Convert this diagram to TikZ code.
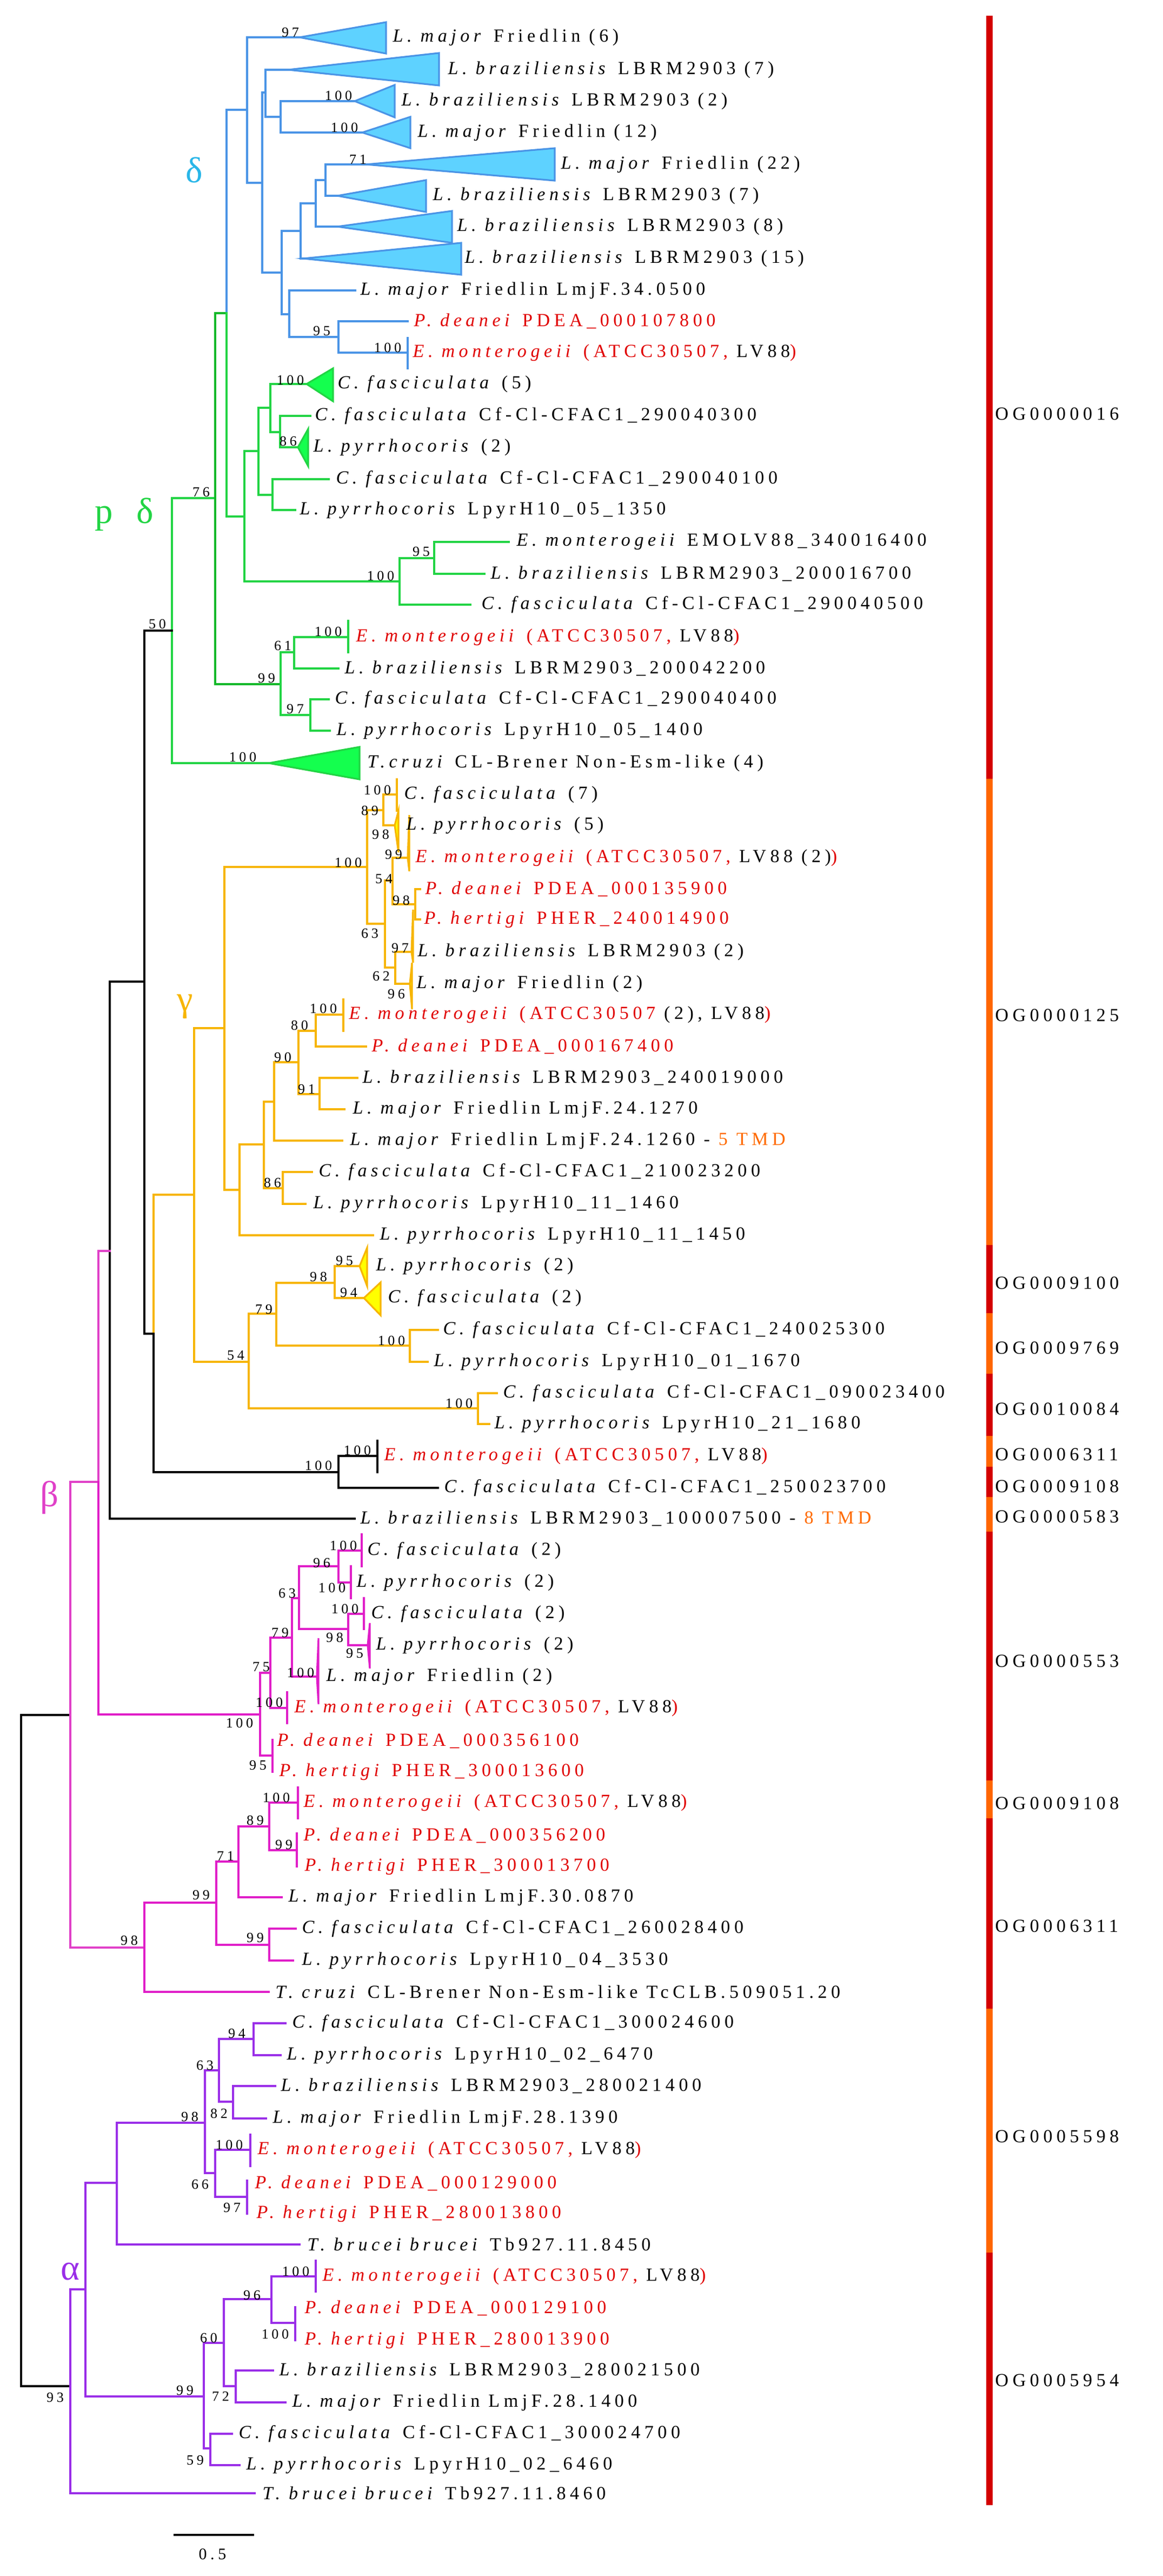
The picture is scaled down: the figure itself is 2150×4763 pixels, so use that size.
\documentclass[tikz,border=0pt]{standalone}
\usepackage{fontspec}
\setmainfont{Liberation Serif}[LetterSpace=22]
\newfontfamily\grk{Liberation Serif}
\definecolor{cdelta}{HTML}{4A94E6}
\definecolor{cdfill}{HTML}{5ED2FF}
\definecolor{cdlab}{HTML}{29B6E8}
\definecolor{cgreen}{HTML}{22D444}
\definecolor{cgreend}{HTML}{12B828}
\definecolor{cgfill}{HTML}{14FF4E}
\definecolor{cyel}{HTML}{F7B500}
\definecolor{cyfill}{HTML}{FFFF00}
\definecolor{cmag}{HTML}{E01EC8}
\definecolor{cbeta}{HTML}{E040C8}
\definecolor{cpur}{HTML}{9A2EE8}
\definecolor{cred}{HTML}{E00000}
\definecolor{corg}{HTML}{FF6A00}
\definecolor{cbarred}{HTML}{D40000}
\definecolor{cbarorg}{HTML}{FF6600}
\newcommand{\xLm}{\textit{L. major}}
\newcommand{\xLb}{\textit{L. braziliensis}}
\newcommand{\xCf}{\textit{C. fasciculata}}
\newcommand{\xLp}{\textit{L. pyrrhocoris}}
\newcommand{\xEm}{\textit{E. monterogeii}}
\newcommand{\xPd}{\textit{P. deanei}}
\newcommand{\xPh}{\textit{P. hertigi}}
\newcommand{\xTc}{\textit{T. cruzi}}
\newcommand{\xTb}{\textit{T. brucei brucei}}
\newcommand{\xEmA}{{\color{cred}\xEm\ (ATCC30507,} LV88{\color{cred})}}
\newcommand{\ed}[3]{\draw[br,#1] (#2) |- (#3);}
\newcommand{\tria}[6]{\filldraw[tri,draw=#5,fill=#6] (#1) -- (#2,#3) -- (#2,#4) -- cycle;}
\newcommand{\vbar}[4]{\draw[br,#1] (#2,#3) -- (#2,#4);}
\newcommand{\bsl}[3]{\node[bs] (b-#1-#2) at (#1,#2) {#3};}
\newcommand{\lab}[4]{\node[lf] (#1) at (#2,#3) {#4};}
\newcommand{\ogl}[2]{\node[og] (og-#2) at (1840,#2) {#1};}
\tikzset{
 br/.style={line width=0.9pt, line cap=rect},
 tri/.style={line width=0.9pt, line join=miter},
 lf/.style={anchor=west, inner sep=0pt, font=\fontsize{9.7}{11}\selectfont},
 og/.style={anchor=west, inner sep=0pt, font=\fontsize{9.7}{11}\selectfont},
 bs/.style={inner sep=0pt, font=\fontsize{7.4}{8}\selectfont},
 grl/.style={inner sep=0pt, font=\grk\fontsize{19}{20}\selectfont},
}
\begin{document}
\begin{tikzpicture}[x=0.01cm,y=-0.01cm]
\useasboundingbox (0,0) rectangle (2150,4763);
% ================= coordinates =================
% delta
\coordinate (dA) at (457,203);
\coordinate (dB) at (485,338);
\coordinate (dC) at (491,171);
\coordinate (dE) at (519,216);
\coordinate (dD) at (521,504);
\coordinate (dF) at (556,427);
\coordinate (dH) at (584,376);
\coordinate (dI) at (602,333);
\coordinate (dG) at (535,581);
\coordinate (dJ) at (626,623);
\coordinate (dt1) at (554,69);
\coordinate (dt2) at (533,129);
\coordinate (dt3) at (656,187);
\coordinate (dt4) at (670,245);
\coordinate (dt5) at (677,304);
\coordinate (dt6) at (624,362);
\coordinate (dt7) at (624,419);
\coordinate (dt8) at (561,478);
\coordinate (dt9) at (657,537);
\coordinate (dt10) at (754,594);
\coordinate (dt11) at (754,652);
% green
\coordinate (gW) at (318,1166);
\coordinate (gS) at (398,921);
\coordinate (gP) at (419,579);
\coordinate (gO) at (452,955);
\coordinate (gL) at (478,834);
\coordinate (gK) at (500,754);
\coordinate (gM) at (518,799);
\coordinate (gN) at (504,915);
\coordinate (gQ) at (739,1075);
\coordinate (gR) at (803,1032);
\coordinate (gT) at (519,1265);
\coordinate (gU) at (544,1206);
\coordinate (gV) at (574,1322);
\coordinate (gt1) at (567,710);
\coordinate (gt2) at (574,769);
\coordinate (gt3) at (551,827);
\coordinate (gt4) at (608,886);
\coordinate (gt5) at (546,943);
\coordinate (gt6) at (870,1118);
\coordinate (gt7) at (941,1002);
\coordinate (gt8) at (896,1061);
\coordinate (gt9) at (644,1178);
\coordinate (gt10) at (626,1236);
\coordinate (gt11) at (608,1293);
\coordinate (gt12) at (610,1351);
\coordinate (gt13) at (497,1411);
% black
\coordinate (root) at (39,3171);
\coordinate (kX0) at (203,2313);
\coordinate (kX1) at (267,1815);
\coordinate (kX2) at (284,2466);
\coordinate (kAQ) at (626,2722);
\coordinate (kt1) at (698,2692);
\coordinate (kt2) at (810,2751);
\coordinate (kt3) at (656,2808);
% yellow
\coordinate (yAK) at (359,2209);
\coordinate (yAC) at (415,1901);
\coordinate (yX) at (679,1603);
\coordinate (yX89) at (709,1498);
\coordinate (yY) at (712,1708);
\coordinate (yZ) at (726,1628);
\coordinate (yAB) at (768,1672);
\coordinate (yAA) at (731,1789);
\coordinate (yAD) at (443,2200);
\coordinate (yAE) at (488,2116);
\coordinate (yAF) at (507,2037);
\coordinate (yAH) at (552,1964);
\coordinate (yAI) at (584,1906);
\coordinate (yAJ) at (591,2023);
\coordinate (yAG) at (523,2197);
\coordinate (yAL) at (460,2518);
\coordinate (yAM) at (511,2429);
\coordinate (yAO) at (619,2372);
\coordinate (yAP) at (758,2488);
\coordinate (yAN) at (884,2604);
\coordinate (yt1) at (734,1469);
\coordinate (yt2) at (730,1526);
\coordinate (yt3) at (754,1586);
\coordinate (yt4) at (777,1644);
\coordinate (yt5) at (777,1700);
\coordinate (yt6) at (761,1760);
\coordinate (yt7) at (758,1819);
\coordinate (yt8) at (635,1876);
\coordinate (yt9) at (677,1935);
\coordinate (yt10) at (661,1993);
\coordinate (yt11) at (637,2051);
\coordinate (yt12) at (633,2109);
\coordinate (yt13) at (577,2167);
\coordinate (yt14) at (565,2226);
\coordinate (yt15) at (690,2284);
\coordinate (yt16) at (665,2341);
\coordinate (yt17) at (673,2400);
\coordinate (yt18) at (810,2459);
\coordinate (yt19) at (791,2518);
\coordinate (yt20) at (919,2576);
\coordinate (yt21) at (905,2633);
% magenta
\coordinate (mBn) at (130,3171);
\coordinate (mBm) at (182,2740);
\coordinate (mBB) at (481,3170);
\coordinate (mBA) at (500,3093);
\coordinate (mB79) at (540,3028);
\coordinate (mB63) at (553,2955);
\coordinate (mB96) at (626,2896);
\coordinate (mB98) at (644,3012);
\coordinate (mBC) at (267,3601);
\coordinate (mB99) at (400,3518);
\coordinate (mB71) at (441,3442);
\coordinate (mB89) at (498,3377);
\coordinate (mB99b) at (498,3596);
\coordinate (mt1) at (669,2867);
\coordinate (mt2) at (649,2926);
\coordinate (mt3) at (673,2984);
\coordinate (mt4) at (680,3042);
\coordinate (mt5) at (586,3100);
\coordinate (mt6) at (531,3158);
\coordinate (mt7) at (504,3246);
\coordinate (mt8) at (551,3333);
\coordinate (mt9) at (549,3421);
\coordinate (mt10) at (521,3508);
\coordinate (mt11) at (547,3566);
\coordinate (mt12) at (542,3625);
\coordinate (mt13) at (497,3683);
% purple
\coordinate (aAl) at (130,4412);
\coordinate (aA1) at (158,4233);
\coordinate (aA2) at (216,4036);
\coordinate (aA4) at (379,3925);
\coordinate (aA5) at (405,3828);
\coordinate (aA7) at (469,3770);
\coordinate (aA8) at (431,3886);
\coordinate (aA6) at (398,4018);
\coordinate (aA3) at (377,4431);
\coordinate (aA9) at (414,4332);
\coordinate (aA11) at (502,4251);
\coordinate (aA12) at (436,4412);
\coordinate (aA10) at (389,4527);
\coordinate (at1) at (528,3741);
\coordinate (at2) at (519,3800);
\coordinate (at3) at (509,3857);
\coordinate (at4) at (492,3917);
\coordinate (at5) at (463,3975);
\coordinate (at6) at (457,4062);
\coordinate (at7) at (554,4150);
\coordinate (at8) at (584,4209);
\coordinate (at9) at (546,4295);
\coordinate (at10) at (505,4383);
\coordinate (at11) at (528,4442);
\coordinate (at12) at (429,4500);
\coordinate (at13) at (443,4558);
\coordinate (at14) at (471,4610);
% ================= edges =================
% delta
\ed{cdelta}{gP}{dA}
\ed{cdelta}{dA}{dt1} \ed{cdelta}{dA}{dB}
\ed{cdelta}{dB}{dC} \ed{cdelta}{dB}{dD}
\ed{cdelta}{dC}{dt2} \ed{cdelta}{dC}{dE}
\ed{cdelta}{dE}{dt3} \ed{cdelta}{dE}{dt4}
\ed{cdelta}{dD}{dF} \ed{cdelta}{dD}{dG}
\ed{cdelta}{dF}{dH} \ed{cdelta}{dF}{dt8}
\ed{cdelta}{dH}{dI} \ed{cdelta}{dH}{dt7}
\ed{cdelta}{dI}{dt5} \ed{cdelta}{dI}{dt6}
\ed{cdelta}{dG}{dt9} \ed{cdelta}{dG}{dJ}
\ed{cdelta}{dJ}{dt10} \ed{cdelta}{dJ}{dt11}
\vbar{cdelta}{754}{625}{681}
\tria{dt1}{714}{41}{99}{cdelta}{cdfill}
\tria{dt2}{812}{98}{158}{cdelta}{cdfill}
\tria{dt3}{730}{157}{217}{cdelta}{cdfill}
\tria{dt4}{759}{216}{274}{cdelta}{cdfill}
\tria{dt5}{1026}{274}{334}{cdelta}{cdfill}
\tria{dt6}{788}{333}{392}{cdelta}{cdfill}
\tria{dt7}{836}{390}{449}{cdelta}{cdfill}
\tria{dt8}{853}{449}{508}{cdelta}{cdfill}
% green
\ed{cgreen}{gW}{gS}
\ed{cgreend}{gS}{gP} \ed{cgreend}{gS}{gT}
\ed{cgreen}{gP}{gO}
\ed{cgreen}{gO}{gL} \ed{cgreen}{gO}{gQ}
\ed{cgreen}{gL}{gK} \ed{cgreen}{gL}{gN}
\ed{cgreen}{gK}{gt1} \ed{cgreen}{gK}{gM}
\ed{cgreen}{gM}{gt2} \ed{cgreen}{gM}{gt3}
\ed{cgreen}{gN}{gt4} \ed{cgreen}{gN}{gt5}
\ed{cgreen}{gQ}{gR} \ed{cgreen}{gQ}{gt6}
\ed{cgreen}{gR}{gt7} \ed{cgreen}{gR}{gt8}
\ed{cgreen}{gT}{gU} \ed{cgreen}{gT}{gV}
\ed{cgreen}{gU}{gt9} \ed{cgreen}{gU}{gt10}
\ed{cgreen}{gV}{gt11} \ed{cgreen}{gV}{gt12}
\ed{cgreen}{gW}{gt13}
\vbar{cgreen}{644}{1148}{1206}
\tria{gt1}{616}{681}{742}{cgreen}{cgfill}
\tria{gt3}{570}{793}{862}{cgreen}{cgfill}
\tria{gt13}{665}{1381}{1441}{cgreen}{cgfill}
% black
\ed{black}{root}{mBn} \ed{black}{root}{aAl}
\ed{black}{kX0}{kX1} \ed{black}{kX0}{kt3}
\ed{black}{kX1}{gW} \ed{black}{kX1}{kX2}
\ed{cyel}{kX2}{yAK} \ed{black}{kX2}{kAQ}
\ed{black}{kAQ}{kt1} \ed{black}{kAQ}{kt2}
\vbar{black}{698}{2664}{2722}
% yellow
\ed{cyel}{yAK}{yAC} \ed{cyel}{yAK}{yAL}
\ed{cyel}{yAC}{yX} \ed{cyel}{yAC}{yAD}
\ed{cyel}{yX}{yX89} \ed{cyel}{yX}{yY}
\ed{cyel}{yX89}{yt1} \ed{cyel}{yX89}{yt2}
\ed{cyel}{yY}{yZ} \ed{cyel}{yY}{yAA}
\ed{cyel}{yZ}{yt3} \ed{cyel}{yZ}{yAB}
\ed{cyel}{yAB}{yt4} \ed{cyel}{yAB}{yt5}
\ed{cyel}{yAA}{yt6} \ed{cyel}{yAA}{yt7}
\ed{cyel}{yAD}{yAE} \ed{cyel}{yAD}{yt15}
\ed{cyel}{yAE}{yAF} \ed{cyel}{yAE}{yAG}
\ed{cyel}{yAF}{yAH} \ed{cyel}{yAF}{yt12}
\ed{cyel}{yAH}{yAI} \ed{cyel}{yAH}{yAJ}
\ed{cyel}{yAI}{yt8} \ed{cyel}{yAI}{yt9}
\ed{cyel}{yAJ}{yt10} \ed{cyel}{yAJ}{yt11}
\ed{cyel}{yAG}{yt13} \ed{cyel}{yAG}{yt14}
\ed{cyel}{yAL}{yAM} \ed{cyel}{yAL}{yAN}
\ed{cyel}{yAM}{yAO} \ed{cyel}{yAM}{yAP}
\ed{cyel}{yAO}{yt16} \ed{cyel}{yAO}{yt17}
\ed{cyel}{yAP}{yt18} \ed{cyel}{yAP}{yt19}
\ed{cyel}{yAN}{yt20} \ed{cyel}{yAN}{yt21}
\vbar{cyel}{734}{1441}{1499}
\vbar{cyel}{635}{1848}{1906}
\tria{yt2}{737}{1499}{1576}{cyel}{cyfill}
\tria{yt3}{757}{1507}{1611}{cyel}{cyfill}
\tria{yt6}{764}{1682}{1780}{cyel}{cyfill}
\tria{yt7}{762}{1780}{1866}{cyel}{cyfill}
\tria{yt16}{679}{2307}{2378}{cyel}{cyfill}
\tria{yt17}{704}{2371}{2432}{cyel}{cyfill}
% magenta
\ed{cbeta}{mBn}{mBm} \ed{cbeta}{mBn}{mBC}
\ed{cbeta}{mBm}{kX0} \ed{cmag}{mBm}{mBB}
\ed{cmag}{mBB}{mBA} \ed{cmag}{mBB}{mt7}
\ed{cmag}{mBA}{mB79} \ed{cmag}{mBA}{mt6}
\ed{cmag}{mB79}{mB63} \ed{cmag}{mB79}{mt5}
\ed{cmag}{mB63}{mB96} \ed{cmag}{mB63}{mB98}
\ed{cmag}{mB96}{mt1} \ed{cmag}{mB96}{mt2}
\ed{cmag}{mB98}{mt3} \ed{cmag}{mB98}{mt4}
\ed{cmag}{mBC}{mB99} \ed{cmag}{mBC}{mt13}
\ed{cmag}{mB99}{mB71} \ed{cmag}{mB99}{mB99b}
\ed{cmag}{mB71}{mB89} \ed{cmag}{mB71}{mt10}
\ed{cmag}{mB89}{mt8} \ed{cmag}{mB89}{mt9}
\ed{cmag}{mB99b}{mt11} \ed{cmag}{mB99b}{mt12}
\vbar{cmag}{669}{2837}{2896}
\vbar{cmag}{649}{2896}{2955}
\vbar{cmag}{673}{2955}{3012}
\vbar{cmag}{531}{3129}{3186}
\vbar{cmag}{504}{3217}{3276}
\vbar{cmag}{551}{3305}{3362}
\vbar{cmag}{549}{3390}{3451}
\tria{mt4}{684}{3001}{3085}{cmag}{cmag}
\tria{mt5}{589}{3029}{3151}{cmag}{cmag}
% purple
\ed{cpur}{aAl}{aA1} \ed{cpur}{aAl}{at14}
\ed{cpur}{aA1}{aA2} \ed{cpur}{aA1}{aA3}
\ed{cpur}{aA2}{aA4} \ed{cpur}{aA2}{at7}
\ed{cpur}{aA4}{aA5} \ed{cpur}{aA4}{aA6}
\ed{cpur}{aA5}{aA7} \ed{cpur}{aA5}{aA8}
\ed{cpur}{aA7}{at1} \ed{cpur}{aA7}{at2}
\ed{cpur}{aA8}{at3} \ed{cpur}{aA8}{at4}
\ed{cpur}{aA6}{at5} \ed{cpur}{aA6}{at6}
\ed{cpur}{aA3}{aA9} \ed{cpur}{aA3}{aA10}
\ed{cpur}{aA9}{aA11} \ed{cpur}{aA9}{aA12}
\ed{cpur}{aA11}{at8} \ed{cpur}{aA11}{at9}
\ed{cpur}{aA12}{at10} \ed{cpur}{aA12}{at11}
\ed{cpur}{aA10}{at12} \ed{cpur}{aA10}{at13}
\vbar{cpur}{463}{3947}{4005}
\vbar{cpur}{457}{4032}{4093}
\vbar{cpur}{584}{4180}{4237}
\vbar{cpur}{546}{4266}{4327}
% ================= leaf labels =================
\lab{L-dt1}{726}{69}{\xLm\ Friedlin (6)}
\lab{L-dt2}{828}{129}{\xLb\ LBRM2903 (7)}
\lab{L-dt3}{742}{187}{\xLb\ LBRM2903 (2)}
\lab{L-dt4}{772}{245}{\xLm\ Friedlin (12)}
\lab{L-dt5}{1037}{304}{\xLm\ Friedlin (22)}
\lab{L-dt6}{800}{362}{\xLb\ LBRM2903 (7)}
\lab{L-dt7}{845}{419}{\xLb\ LBRM2903 (8)}
\lab{L-dt8}{859}{478}{\xLb\ LBRM2903 (15)}
\lab{L-dt9}{666}{537}{\xLm\ Friedlin LmjF.34.0500}
\lab{L-dt10}{765}{594}{\color{cred}\xPd\ PDEA\_000107800}
\lab{L-dt11}{763}{652}{\xEmA}
\lab{L-gt1}{624}{710}{\xCf\ (5)}
\lab{L-gt2}{582}{769}{\xCf\ Cf-Cl-CFAC1\_290040300}
\lab{L-gt3}{579}{827}{\xLp\ (2)}
\lab{L-gt4}{621}{886}{\xCf\ Cf-Cl-CFAC1\_290040100}
\lab{L-gt5}{554}{943}{\xLp\ LpyrH10\_05\_1350}
\lab{L-gt7}{955}{1002}{\xEm\ EMOLV88\_340016400}
\lab{L-gt8}{907}{1061}{\xLb\ LBRM2903\_200016700}
\lab{L-gt6}{890}{1118}{\xCf\ Cf-Cl-CFAC1\_290040500}
\lab{L-gt9}{658}{1178}{\xEmA}
\lab{L-gt10}{637}{1236}{\xLb\ LBRM2903\_200042200}
\lab{L-gt11}{619}{1293}{\xCf\ Cf-Cl-CFAC1\_290040400}
\lab{L-gt12}{622}{1351}{\xLp\ LpyrH10\_05\_1400}
\lab{L-gt13}{679}{1411}{\textit{T.cruzi} CL-Brener Non-Esm-like (4)}
\lab{L-yt1}{747}{1469}{\xCf\ (7)}
\lab{L-yt2}{751}{1526}{\xLp\ (5)}
\lab{L-yt3}{768}{1586}{{\color{cred}\xEm\ (ATCC30507,} LV88 (2){\color{cred})}}
\lab{L-yt4}{786}{1644}{\color{cred}\xPd\ PDEA\_000135900}
\lab{L-yt5}{784}{1700}{\color{cred}\xPh\ PHER\_240014900}
\lab{L-yt6}{772}{1760}{\xLb\ LBRM2903 (2)}
\lab{L-yt7}{770}{1819}{\xLm\ Friedlin (2)}
\lab{L-yt8}{645}{1876}{{\color{cred}\xEm\ (ATCC30507} (2), LV88{\color{cred})}}
\lab{L-yt9}{687}{1935}{\color{cred}\xPd\ PDEA\_000167400}
\lab{L-yt10}{670}{1993}{\xLb\ LBRM2903\_240019000}
\lab{L-yt11}{652}{2051}{\xLm\ Friedlin LmjF.24.1270}
\lab{L-yt12}{647}{2109}{\xLm\ Friedlin LmjF.24.1260 - {\color{corg}5 TMD}}
\lab{L-yt13}{589}{2167}{\xCf\ Cf-Cl-CFAC1\_210023200}
\lab{L-yt14}{579}{2226}{\xLp\ LpyrH10\_11\_1460}
\lab{L-yt15}{702}{2284}{\xLp\ LpyrH10\_11\_1450}
\lab{L-yt16}{695}{2341}{\xLp\ (2)}
\lab{L-yt17}{717}{2400}{\xCf\ (2)}
\lab{L-yt18}{819}{2459}{\xCf\ Cf-Cl-CFAC1\_240025300}
\lab{L-yt19}{802}{2518}{\xLp\ LpyrH10\_01\_1670}
\lab{L-yt20}{930}{2576}{\xCf\ Cf-Cl-CFAC1\_090023400}
\lab{L-yt21}{914}{2633}{\xLp\ LpyrH10\_21\_1680}
\lab{L-kt1}{710}{2692}{\xEmA}
\lab{L-kt2}{821}{2751}{\xCf\ Cf-Cl-CFAC1\_250023700}
\lab{L-kt3}{666}{2808}{\xLb\ LBRM2903\_100007500 - {\color{corg}8 TMD}}
\lab{L-mt1}{679}{2867}{\xCf\ (2)}
\lab{L-mt2}{659}{2926}{\xLp\ (2)}
\lab{L-mt3}{686}{2984}{\xCf\ (2)}
\lab{L-mt4}{695}{3042}{\xLp\ (2)}
\lab{L-mt5}{603}{3100}{\xLm\ Friedlin (2)}
\lab{L-mt6}{544}{3158}{\xEmA}
\lab{L-mt7a}{512}{3219}{\color{cred}\xPd\ PDEA\_000356100}
\lab{L-mt7b}{516}{3276}{\color{cred}\xPh\ PHER\_300013600}
\lab{L-mt8}{561}{3333}{\xEmA}
\lab{L-mt9a}{561}{3394}{\color{cred}\xPd\ PDEA\_000356200}
\lab{L-mt9b}{563}{3451}{\color{cred}\xPh\ PHER\_300013700}
\lab{L-mt10}{533}{3508}{\xLm\ Friedlin LmjF.30.0870}
\lab{L-mt11}{558}{3566}{\xCf\ Cf-Cl-CFAC1\_260028400}
\lab{L-mt12}{558}{3625}{\xLp\ LpyrH10\_04\_3530}
\lab{L-mt13}{509}{3683}{\xTc\ CL-Brener Non-Esm-like TcCLB.509051.20}
\lab{L-at1}{540}{3741}{\xCf\ Cf-Cl-CFAC1\_300024600}
\lab{L-at2}{530}{3800}{\xLp\ LpyrH10\_02\_6470}
\lab{L-at3}{519}{3857}{\xLb\ LBRM2903\_280021400}
\lab{L-at4}{504}{3917}{\xLm\ Friedlin LmjF.28.1390}
\lab{L-at5}{476}{3975}{\xEmA}
\lab{L-at6a}{471}{4037}{\color{cred}\xPd\ PDEA\_000129000}
\lab{L-at6b}{474}{4093}{\color{cred}\xPh\ PHER\_280013800}
\lab{L-at7}{568}{4150}{\xTb\ Tb927.11.8450}
\lab{L-at8}{596}{4209}{\xEmA}
\lab{L-at9a}{563}{4268}{\color{cred}\xPd\ PDEA\_000129100}
\lab{L-at9b}{563}{4327}{\color{cred}\xPh\ PHER\_280013900}
\lab{L-at10}{516}{4383}{\xLb\ LBRM2903\_280021500}
\lab{L-at11}{540}{4442}{\xLm\ Friedlin LmjF.28.1400}
\lab{L-at12}{441}{4500}{\xCf\ Cf-Cl-CFAC1\_300024700}
\lab{L-at13}{455}{4558}{\xLp\ LpyrH10\_02\_6460}
\lab{L-at14}{485}{4610}{\xTb\ Tb927.11.8460}
% ================= bootstrap =================
\bsl{537}{60}{97} \bsl{626}{177}{100} \bsl{637}{236}{100} \bsl{662}{295}{71}
\bsl{595}{612}{95} \bsl{717}{643}{100}
\bsl{537}{703}{100} \bsl{533}{816}{86} \bsl{704}{1065}{100} \bsl{779}{1020}{95}
\bsl{372}{910}{76} \bsl{493}{1254}{99} \bsl{523}{1194}{61} \bsl{546}{1311}{97}
\bsl{607}{1168}{100} \bsl{449}{1400}{100} \bsl{291}{1154}{50}
\bsl{698}{1461}{100} \bsl{684}{1499}{89} \bsl{704}{1543}{98} \bsl{644}{1595}{100}
\bsl{728}{1580}{99} \bsl{710}{1625}{54} \bsl{742}{1665}{98} \bsl{684}{1726}{63}
\bsl{740}{1753}{97} \bsl{705}{1805}{62} \bsl{733}{1838}{96} \bsl{598}{1865}{100}
\bsl{554}{1896}{80} \bsl{523}{1955}{90} \bsl{567}{2014}{91} \bsl{504}{2187}{86}
\bsl{436}{2506}{54} \bsl{488}{2421}{79} \bsl{589}{2361}{98} \bsl{637}{2331}{95}
\bsl{645}{2390}{94} \bsl{724}{2479}{100} \bsl{849}{2595}{100}
\bsl{589}{2710}{100} \bsl{661}{2682}{100}
\bsl{635}{2858}{100} \bsl{614}{2936}{100} \bsl{595}{2890}{96} \bsl{531}{2946}{63}
\bsl{638}{2975}{100} \bsl{619}{3028}{98} \bsl{656}{3057}{95} \bsl{518}{3019}{79}
\bsl{556}{3093}{100} \bsl{483}{3082}{75} \bsl{498}{3148}{100} \bsl{443}{3186}{100}
\bsl{477}{3264}{95} \bsl{511}{3324}{100} \bsl{525}{3411}{99} \bsl{472}{3366}{89}
\bsl{417}{3432}{71} \bsl{372}{3504}{99} \bsl{472}{3583}{99} \bsl{239}{3588}{98}
\bsl{438}{3760}{94} \bsl{379}{3819}{63} \bsl{405}{3908}{82} \bsl{351}{3914}{98}
\bsl{424}{3966}{100} \bsl{370}{4039}{66} \bsl{429}{4082}{97} \bsl{342}{4420}{99}
\bsl{386}{4323}{60} \bsl{466}{4244}{96} \bsl{547}{4200}{100} \bsl{509}{4316}{100}
\bsl{408}{4431}{72} \bsl{361}{4549}{59} \bsl{102}{4433}{93}
% ================= clade labels =================
\node[grl,text=cdlab] (lab-delta) at (359,314) {δ};
\node[grl,text=cgreen] (lab-pdelta) at (230,951) {p\hspace{0.65em}δ};
\node[grl,text=cyel] (lab-gamma) at (342,1861) {γ};
\node[grl,text=cbeta] (lab-beta) at (91,2769) {β};
\node[grl,text=cpur] (lab-alpha) at (130,4200) {α};
% ================= scale bar =================
\coordinate (sb1) at (321,4687);
\coordinate (sb2) at (470,4687);
\draw[line width=1.1pt] (sb1) -- (sb2);
\node[bs,font=\fontsize{8.5}{9}\selectfont] (sblab) at (393,4723) {0.5};
% ================= orthogroup bars =================
\fill[cbarred] (1824,29) rectangle (1836,1440);
\fill[cbarorg] (1824,1440) rectangle (1836,2302);
\fill[cbarred] (1824,2302) rectangle (1836,2428);
\fill[cbarorg] (1824,2428) rectangle (1836,2540);
\fill[cbarred] (1824,2540) rectangle (1836,2655);
\fill[cbarorg] (1824,2655) rectangle (1836,2712);
\fill[cbarred] (1824,2712) rectangle (1836,2768);
\fill[cbarorg] (1824,2768) rectangle (1836,2832);
\fill[cbarred] (1824,2832) rectangle (1836,3292);
\fill[cbarorg] (1824,3292) rectangle (1836,3362);
\fill[cbarred] (1824,3362) rectangle (1836,3714);
\fill[cbarorg] (1824,3714) rectangle (1836,4165);
\fill[cbarred] (1824,4165) rectangle (1836,4632);
\ogl{OG0000016}{765}
\ogl{OG0000125}{1877}
\ogl{OG0009100}{2372}
\ogl{OG0009769}{2492}
\ogl{OG0010084}{2605}
\ogl{OG0006311}{2689}
\ogl{OG0009108}{2748}
\ogl{OG0000583}{2804}
\ogl{OG0000553}{3071}
\ogl{OG0009108}{3334}
\ogl{OG0006311}{3561}
\ogl{OG0005598}{3950}
\ogl{OG0005954}{4401}
\end{tikzpicture}
\end{document}
